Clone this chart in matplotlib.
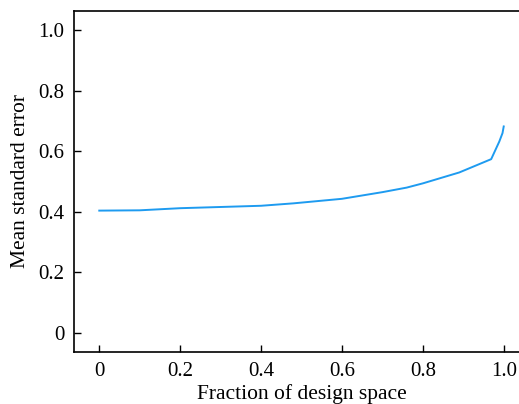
import matplotlib
matplotlib.use("Agg")
import matplotlib.pyplot as plt

frac = [0.0, 0.1, 0.2, 0.3, 0.4, 0.48, 0.6, 0.7, 0.76, 0.8, 0.89, 0.969, 0.989, 0.997, 1.0]
mse = [0.404, 0.405, 0.412, 0.416, 0.420, 0.428, 0.443, 0.465, 0.480, 0.494, 0.530, 0.574, 0.632, 0.660, 0.682]
xticks = [0, 0.2, 0.4, 0.6, 0.8, 1.0]
xticklabels = ["0", "0.2", "0.4", "0.6", "0.8", "1.0"]
yticks = [0, 0.2, 0.4, 0.6, 0.8, 1.0]
yticklabels = ["0", "0.2", "0.4", "0.6", "0.8", "1.0"]

plt.rcParams['font.family'] = ['Liberation Serif', 'DejaVu Serif']
fig = plt.figure(figsize=(5.19, 4.04), dpi=100)
W, H = 519, 404
left, right, top, bottom = 74, 529, 10.5, 352
ax = fig.add_axes([left / W, 1 - bottom / H, (right - left) / W, (bottom - top) / H])
ax.plot(frac, mse, color='#1E9BF0', lw=1.4)
ax.set_xlim(-0.0625, 1.0625)
ax.set_ylim(-0.063, 1.065)
ax.set_xticks(xticks)
ax.set_xticklabels(xticklabels)
ax.set_yticks(yticks)
ax.set_yticklabels(yticklabels)
ax.tick_params(direction='in', length=5, width=1, labelsize=15, pad=7)
ax.spines['right'].set_visible(False)
for s in ['left', 'bottom', 'top']:
    ax.spines[s].set_linewidth(1.2)
ax.set_xlabel("Fraction of design space", fontsize=15.5, labelpad=2.5)
ax.set_ylabel("Mean standard error", fontsize=15.5, labelpad=6)
fig.savefig("out.png", dpi=100)
